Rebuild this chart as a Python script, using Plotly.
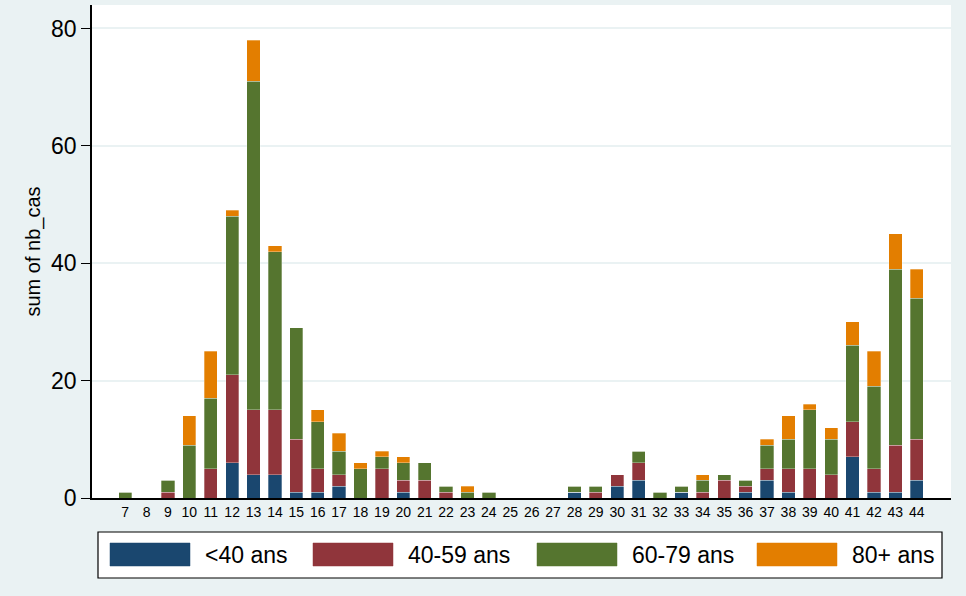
import plotly.graph_objects as go

weeks = list(range(7, 45))

# cases per week by age group
under40 = [0, 0, 0, 0, 0, 6, 4, 4, 1, 1, 2, 0, 0, 1, 0, 0, 0, 0, 0, 0, 0,
           1, 0, 2, 3, 0, 1, 0, 0, 1, 3, 1, 0, 0, 7, 1, 1, 3]
age40_59 = [0, 0, 1, 0, 5, 15, 11, 11, 9, 4, 2, 0, 5, 2, 3, 1, 0, 0, 0, 0, 0,
            0, 1, 2, 3, 0, 0, 1, 3, 1, 2, 4, 5, 4, 6, 4, 8, 7]
age60_79 = [1, 0, 2, 9, 12, 27, 56, 27, 19, 8, 4, 5, 2, 3, 3, 1, 1, 1, 0, 0, 0,
            1, 1, 0, 2, 1, 1, 2, 1, 1, 4, 5, 10, 6, 13, 14, 30, 24]
age80plus = [0, 0, 0, 5, 8, 1, 7, 1, 0, 2, 3, 1, 1, 1, 0, 0, 1, 0, 0, 0, 0,
             0, 0, 0, 0, 0, 0, 1, 0, 0, 1, 4, 1, 2, 4, 6, 6, 5]

groups = ['<40 ans', '40-59 ans', '60-79 ans', '80+ ans']
series = [under40, age40_59, age60_79, age80plus]
colors = ['#1A476F', '#90353B', '#55752F', '#E37E00']

fig = go.Figure()
for name, vals, col in zip(groups, series, colors):
    fig.add_trace(go.Bar(x=weeks, y=vals, name=name, width=0.62,
                         marker=dict(color=col, line=dict(width=0.6, color='rgba(255,255,255,0.5)')),
                         showlegend=False))

fig.update_layout(
    barmode='stack',
    width=966, height=596,
    margin=dict(l=92, r=15, t=5, b=98),
    paper_bgcolor='#EAF2F3',
    plot_bgcolor='white',
    font=dict(family='Liberation Sans, Arial', color='black'),
)
fig.update_xaxes(range=[5.45, 45.6], tickvals=weeks, ticktext=[str(w) for w in weeks],
                 tickfont=dict(size=14), showgrid=False, showline=True,
                 linecolor='black', linewidth=1.5, ticks='', zeroline=False,
                 automargin=False)
fig.update_yaxes(range=[0, 84], tickvals=[0, 20, 40, 60, 80], tickfont=dict(size=23),
                 showgrid=True, gridcolor='#EAF2F3', gridwidth=2,
                 showline=True, linecolor='black', linewidth=1.5,
                 ticks='outside', ticklen=9, tickcolor='black', zeroline=False,
                 automargin=False,
                 title=dict(text='sum of nb_cas', font=dict(size=20), standoff=5))

# Stata-style legend box drawn below the plot (pixel -> paper helpers)
def px_x(p):
    return (p - 92) / 859

def px_y(p):
    return (498 - p) / 493

fig.add_shape(type='rect', xref='paper', yref='paper',
              x0=px_x(98), x1=px_x(942), y0=px_y(578), y1=px_y(532),
              fillcolor='white', line=dict(color='black', width=1.2))
swatch_x = [110, 313, 537, 757]
for name, col, sx in zip(groups, colors, swatch_x):
    fig.add_shape(type='rect', xref='paper', yref='paper',
                  x0=px_x(sx), x1=px_x(sx + 80), y0=px_y(566), y1=px_y(543),
                  fillcolor=col, line=dict(color=col, width=0.5))
    fig.add_annotation(xref='paper', yref='paper', x=px_x(sx + 93), y=px_y(555),
                       text=name, showarrow=False, xanchor='left', yanchor='middle',
                       font=dict(size=23, color='black'))

# drop the browser's default page margin so the figure sits at the window corner
fig.write_html("out.html", config={'displayModeBar': False},
               post_script="document.body.style.margin='0';")
